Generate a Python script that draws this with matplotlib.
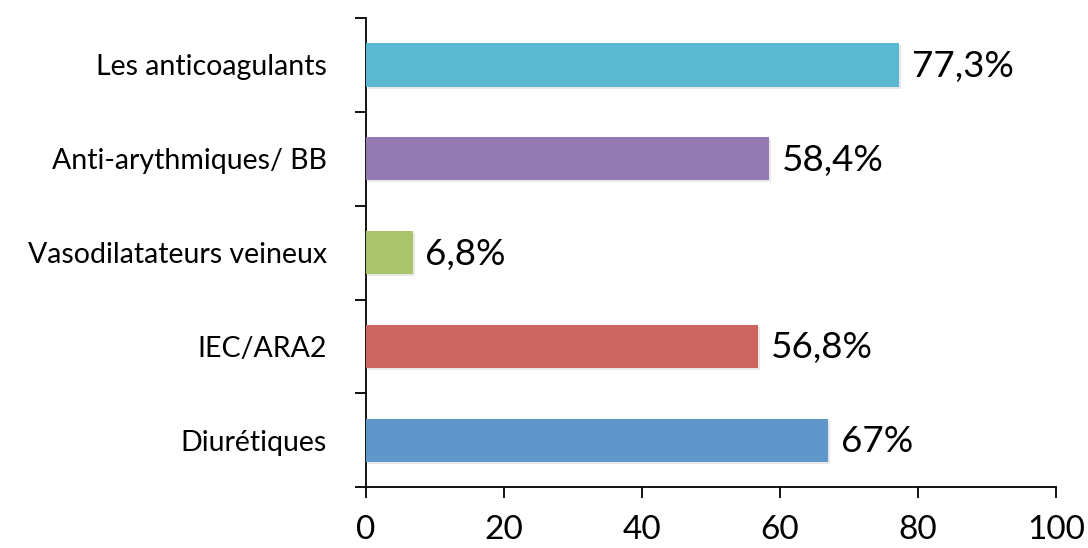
import matplotlib
matplotlib.use("Agg")
import matplotlib.pyplot as plt
import matplotlib.patheffects as pe
from matplotlib.ticker import FixedLocator

categories = ["Les anticoagulants", "Anti-arythmiques/ BB", "Vasodilatateurs veineux",
              "IEC/ARA2", "Diurétiques"]
values = [77.3, 58.4, 6.8, 56.8, 67]
value_labels = ["77,3%", "58,4%", "6,8%", "56,8%", "67%"]
colors = ["#5BB8D1", "#937AB0", "#A9C46A", "#CD6560", "#6096C9"]
xticks = [0, 20, 40, 60, 80, 100]

plt.rcParams["font.family"] = ["Lato", "DejaVu Sans"]

fig = plt.figure(figsize=(10.88, 5.48), dpi=100)
ax = fig.add_axes([0.3364, 0.111, 0.6342, 0.856])

n = len(categories)
ypos = list(range(n - 1, -1, -1))
bars = ax.barh(ypos, values, height=0.46, color=colors, zorder=3)
for b in bars:
    b.set_path_effects([pe.SimplePatchShadow(offset=(1.5, -1.5), shadow_rgbFace="#999999", alpha=0.22),
                        pe.Normal()])

for y, v, lab in zip(ypos, values, value_labels):
    ax.annotate(lab, (v, y), xytext=(9, -1), textcoords="offset points",
                va="center", ha="left", fontsize=26.5, color="black")

ax.set_xlim(0, 100)
ax.set_ylim(-0.5, n - 0.5)
ax.set_xticks(xticks)
ax.set_xticklabels([str(t) for t in xticks], fontsize=24)
ax.tick_params(axis="x", direction="out", length=8, width=1.3, pad=12, colors="black")

ax.set_yticks(ypos)
ax.set_yticklabels(categories, fontsize=20.5)
ax.tick_params(axis="y", which="major", length=0, pad=28)
ax.yaxis.set_minor_locator(FixedLocator([i - 0.5 for i in range(n + 1)]))
ax.tick_params(axis="y", which="minor", direction="out", length=8, width=1.3)

for s in ["top", "right"]:
    ax.spines[s].set_visible(False)
for s in ["left", "bottom"]:
    ax.spines[s].set_linewidth(1.3)
    ax.spines[s].set_color("black")

fig.savefig("out.png", dpi=100)
